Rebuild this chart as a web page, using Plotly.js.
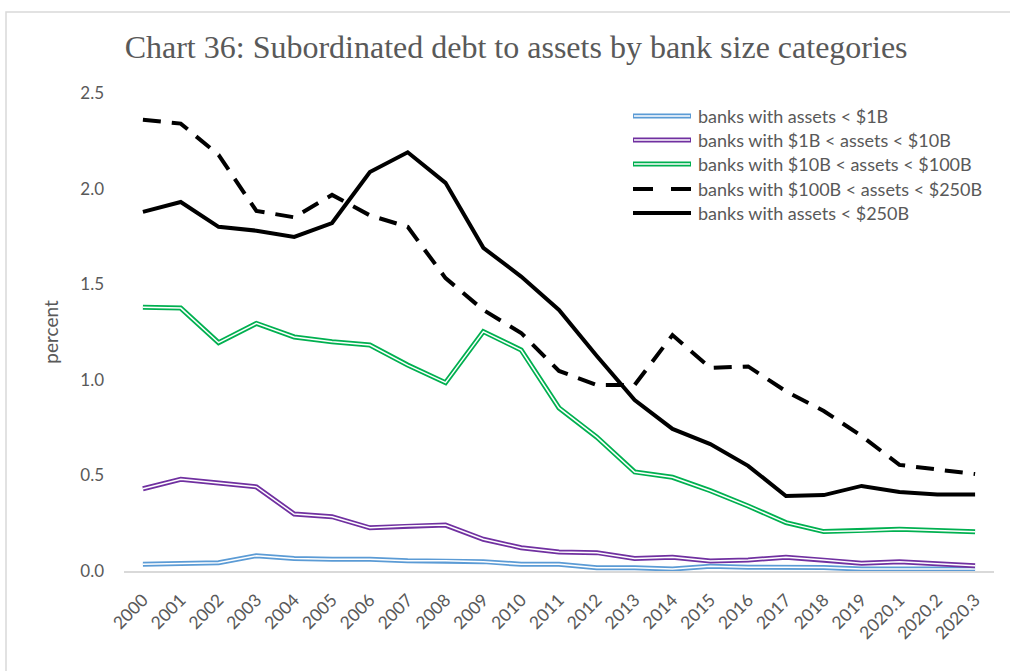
<!DOCTYPE html>
<html>
<head>
<meta charset="utf-8">
<script src="https://cdn.plot.ly/plotly-3.0.1.min.js"></script>
<style>html,body{margin:0;padding:0;background:#fff}#chart{width:1010px;height:671px}</style>
</head>
<body>
<div id="chart"></div>
<script>
const categories = ["2000","2001","2002","2003","2004","2005","2006","2007","2008","2009","2010","2011","2012","2013","2014","2015","2016","2017","2018","2019","2020.1","2020.2","2020.3"];
const under1B = [0.035,0.040,0.043,0.080,0.066,0.061,0.061,0.054,0.054,0.049,0.035,0.035,0.017,0.017,0.010,0.025,0.020,0.020,0.018,0.010,0.010,0.010,0.010];
const from1Bto10B = [0.43,0.48,0.46,0.44,0.298,0.284,0.226,0.235,0.240,0.166,0.122,0.100,0.096,0.066,0.072,0.052,0.058,0.072,0.058,0.040,0.049,0.037,0.028];
const from10Bto100B = [1.38,1.375,1.194,1.295,1.224,1.199,1.182,1.077,0.985,1.252,1.156,0.853,0.700,0.518,0.490,0.420,0.340,0.253,0.206,0.210,0.218,0.212,0.205];
const from100Bto250B = [2.36,2.34,2.176,1.883,1.85,1.967,1.86,1.80,1.532,1.365,1.245,1.046,0.973,0.973,1.234,1.062,1.07,0.94,0.837,0.706,0.555,0.533,0.507];
const over250B = [1.878,1.93,1.80,1.78,1.747,1.82,2.087,2.19,2.03,1.69,1.54,1.365,1.125,0.894,0.743,0.664,0.55,0.392,0.397,0.445,0.413,0.40,0.40];
const seriesNames = ["banks with assets < $1B","banks with $1B < assets < $10B","banks with $10B < assets < $100B","banks with $100B < assets < $250B","banks with assets < $250B"];
const yTicks = [0,0.5,1.0,1.5,2.0,2.5];
const yTickText = ["0.0","0.5","1.0","1.5","2.0","2.5"];

const FONT = "Lato, 'Open Sans', sans-serif";
const doubleStyles = [
  {data: under1B, outer: "#5b9bd5"},
  {data: from1Bto10B, outer: "#7030a0"},
  {data: from10Bto100B, outer: "#00b050"}
];
const traces = [];
doubleStyles.forEach((s, i) => {
  traces.push({x: categories, y: s.data, type: "scatter", mode: "lines", name: seriesNames[i], showlegend: false,
    line: {color: s.outer, width: 5}, hoverinfo: "skip"});
  traces.push({x: categories, y: s.data, type: "scatter", mode: "lines", name: seriesNames[i], showlegend: false,
    line: {color: "#ffffff", width: 1.5}});
});
traces.push({x: categories, y: from100Bto250B, type: "scatter", mode: "lines", name: seriesNames[3], showlegend: false,
  line: {color: "#000000", width: 4, dash: "18px,11px"}});
traces.push({x: categories, y: over250B, type: "scatter", mode: "lines", name: seriesNames[4], showlegend: false,
  line: {color: "#000000", width: 4}});

// layout geometry
const W = 1010, H = 671, L = 124, R = 16, T = 93, B = 100;
const pw = W - L - R, ph = H - T - B;
const px = x => (x - L) / pw;
const py = y => (H - B - y) / ph;

const shapes = [];
const annotations = [];
// outer border
shapes.push({type: "rect", xref: "paper", yref: "paper", x0: px(6), x1: px(1040), y0: py(12), y1: py(700),
  line: {color: "#d9d9d9", width: 1.5}, fillcolor: "rgba(0,0,0,0)", layer: "below"});

const legendY = [116, 140, 164, 189, 213];
const legendColors = ["#5b9bd5", "#7030a0", "#00b050", "#000000", "#000000"];
legendY.forEach((yy, i) => {
  if (i < 3) {
    shapes.push({type: "line", xref: "paper", yref: "paper", x0: px(633), x1: px(691), y0: py(yy), y1: py(yy),
      line: {color: legendColors[i], width: 5}});
    shapes.push({type: "line", xref: "paper", yref: "paper", x0: px(634), x1: px(690), y0: py(yy), y1: py(yy),
      line: {color: "#ffffff", width: 1.5}});
  } else if (i === 3) {
    shapes.push({type: "line", xref: "paper", yref: "paper", x0: px(633), x1: px(653), y0: py(yy), y1: py(yy),
      line: {color: "#000", width: 4}});
    shapes.push({type: "line", xref: "paper", yref: "paper", x0: px(671), x1: px(691), y0: py(yy), y1: py(yy),
      line: {color: "#000", width: 4}});
  } else {
    shapes.push({type: "line", xref: "paper", yref: "paper", x0: px(633), x1: px(691), y0: py(yy), y1: py(yy),
      line: {color: "#000", width: 4}});
  }
  annotations.push({xref: "paper", yref: "paper", x: px(696), y: py(yy), xanchor: "left", yanchor: "middle",
    text: seriesNames[i], showarrow: false, font: {family: FONT, size: 18, color: "#595959"}});
});

const layout = {
  width: W, height: H,
  margin: {l: L, r: R, t: T, b: B, pad: 0},
  paper_bgcolor: "#ffffff", plot_bgcolor: "#ffffff",
  title: {text: "Chart 36: Subordinated debt to assets by bank size categories", x: 0.511, xanchor: "center", y: 1 - 47/H, yanchor: "middle",
    font: {family: "'Liberation Serif', 'Times New Roman', serif", size: 32, color: "#595959"}},
  xaxis: {type: "category", categoryorder: "array", categoryarray: categories, range: [-0.5, 22.5],
    showgrid: false, zeroline: false, showline: true, linecolor: "#d9d9d9", linewidth: 2,
    tickangle: -45, ticks: "", ticklabelstandoff: 10, tickfont: {family: FONT, size: 17.5, color: "#595959"}, fixedrange: true},
  yaxis: {range: [0, 2.5], tickvals: yTicks, ticktext: yTickText, showgrid: false, zeroline: false, showline: false,
    ticks: "", ticklabelstandoff: 19,
    tickfont: {family: FONT, size: 17, color: "#595959"},
    title: {text: "percent", standoff: 16, font: {family: FONT, size: 19, color: "#595959"}}},
  shapes: shapes,
  annotations: annotations,
  showlegend: false
};
Plotly.newPlot("chart", traces, layout, {displayModeBar: false, staticPlot: true});
</script>
</body>
</html>
